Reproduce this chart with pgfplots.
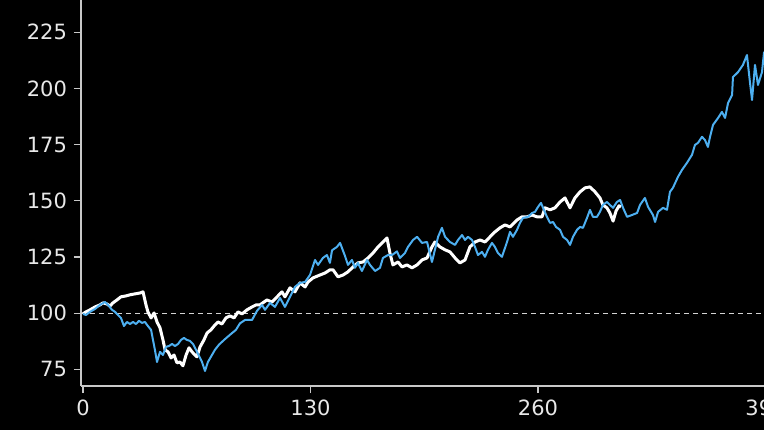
\documentclass[border=0pt]{standalone}
\usepackage{fontspec}
\setmainfont{DejaVu Sans}
\usepackage{pgfplots}
\pgfplotsset{compat=1.18}
\usepackage{xcolor}
\definecolor{LineBlue}{RGB}{77,175,240}
\definecolor{AxGray}{RGB}{200,200,200}
\definecolor{TxtGray}{RGB}{232,232,232}

\begin{document}
\begin{tikzpicture}
\fill[black] (0,0) rectangle (382pt,215pt);
\begin{axis}[
    at={(40.5pt,22pt)}, anchor=south west,
    scale only axis,
    width=344pt, height=193pt,
    xmin=-1.14, xmax=392,
    ymin=67.6, ymax=239.4,
    axis x line*=bottom, axis y line*=left,
    x axis line style={-, AxGray, line width=0.6pt},
    y axis line style={-, AxGray, line width=0.6pt},
    xtick={0,130,260,390},
    ytick={75,100,125,150,175,200,225},
    tick align=outside,
    major tick length=3.5pt,
    tick style={AxGray, line width=0.6pt},
    ticklabel style={font=\fontsize{10.5}{12}\selectfont, text=TxtGray},
    /pgf/number format/assume math mode=true,
    clip=false,
]
\addplot[AxGray!80, dash pattern=on 2.5pt off 2pt, line width=0.4pt] coordinates {(-1.14,100) (392,100)};

% white series
\addplot[white, line width=1.5pt, line join=round] coordinates {
(0,99.7) (1.7,100.6) (4.0,101.5) (6.9,102.8) (9.7,103.7) (11.4,104.6) (13.7,104.1) (15.4,103.2)
(17.1,104.6) (19.4,105.9) (21.7,107.3) (24.6,107.7) (26.9,108.2) (29.7,108.6) (32.6,109.0) (34.3,109.5)
(36.0,103.7) (37.1,100.6) (38.9,97.9) (40.6,100.1) (42.3,96.1) (44.0,93.5) (45.7,88.1) (46.9,83.7)
(48.6,82.8) (50.3,80.1) (52.0,81.4) (53.7,77.9) (55.4,78.3) (57.1,76.6) (58.9,81.4) (60.6,84.6)
(62.3,82.8) (64.0,81.4) (65.1,80.6) (66.9,85.0) (69.1,88.1) (70.9,91.2) (73.1,92.6) (74.9,94.3)
(77.1,96.1) (79.4,95.2) (81.7,97.9) (84.0,98.8) (86.3,97.9) (88.6,100.6) (90.9,99.7) (93.7,101.5)
(96.6,102.8) (98.9,103.7) (101.1,103.7) (105.1,105.9) (108.0,105.0) (110.9,107.3) (113.7,109.5)
(115.4,107.3) (118.3,111.3) (121.1,109.5) (124.0,113.5) (126.9,111.7) (128.6,113.9) (131.4,115.7)
(135.4,117.0) (138.3,117.9) (141.1,119.3) (142.9,119.3) (145.7,116.2) (148.6,117.0) (151.4,118.4)
(154.3,120.6) (157.1,122.4) (160.0,122.8) (162.9,124.6) (165.7,126.8) (168.6,129.5) (171.4,131.7)
(173.7,133.5) (175.4,126.8) (177.1,121.5) (180.0,122.8) (182.3,120.6) (185.1,121.5) (188.0,120.2)
(190.9,121.5) (193.7,123.7) (196.6,124.6) (199.4,129.5) (201.1,131.7) (204.0,129.5) (206.9,128.2)
(209.7,127.3) (212.6,124.6) (215.4,122.4) (218.3,123.7) (221.1,129.5) (224.0,131.7) (226.9,132.6)
(229.7,131.7) (232.6,134.0) (235.4,136.2) (238.3,138.0) (241.1,139.3) (244.0,138.4) (248.0,141.5)
(250.9,142.9) (253.7,142.9) (256.6,143.7) (259.4,142.9) (262.3,142.9) (264.0,146.9) (266.9,146.0)
(269.7,146.9) (272.6,149.5) (275.4,151.3) (278.3,146.9) (281.1,151.3) (284.0,154.0) (286.9,155.8)
(289.7,156.2) (292.6,154.0) (295.4,151.3) (297.1,148.2) (299.4,146.9) (301.1,144.6) (302.9,141.0)
(304.6,145.5) (306.3,147.8) (307.4,147.3)
};

% blue series
\addplot[LineBlue, line width=1pt, line join=round] coordinates {
(0,99.7) (1.7,99.2) (4.0,100.6) (6.9,101.9) (9.7,103.7) (12.6,105.0) (14.3,103.7) (16.6,101.5)
(18.3,100.6) (20.0,99.2) (21.7,97.9) (23.4,94.3) (25.1,96.1) (26.9,95.2) (28.6,96.1) (30.3,95.2)
(32.0,96.6) (33.7,95.7) (35.4,96.1) (37.1,94.3) (38.9,92.6) (40.0,88.1) (41.1,83.7) (42.3,78.3)
(44.0,82.8) (45.7,81.4) (47.4,85.0) (49.1,85.4) (50.9,86.3) (52.6,85.4) (54.3,86.3) (56.0,88.1)
(57.7,89.0) (59.4,88.1) (61.1,87.7) (62.9,86.3) (64.6,83.7) (66.3,81.0) (68.0,78.3) (69.7,74.3)
(71.4,78.3) (73.1,80.6) (75.4,83.7) (77.7,86.0) (80.6,88.1) (84.0,90.4) (87.4,92.6) (89.7,95.5)
(92.6,97.0) (96.6,97.0) (99.4,101.0) (102.3,103.7) (104.0,101.5) (106.9,104.6) (109.7,102.8)
(112.6,106.8) (115.4,102.8) (118.3,107.3) (121.1,111.7) (124.0,113.5) (126.9,113.9) (129.7,117.0)
(132.6,123.7) (134.3,121.5) (137.1,124.6) (139.4,125.9) (141.1,122.4) (142.3,128.0) (145.1,129.5)
(146.9,131.3) (149.7,125.5) (151.4,121.5) (153.7,123.7) (155.4,120.2) (157.1,122.4) (159.4,118.8)
(162.3,123.7) (164.0,121.5) (166.9,118.8) (169.7,120.2) (171.4,124.6) (174.3,125.9) (176.6,125.9)
(179.4,127.5) (181.1,124.6) (184.0,126.8) (185.7,129.5) (188.6,132.6) (190.9,134.0) (193.7,131.3)
(196.6,131.7) (199.4,122.8) (201.1,128.2) (202.9,134.0) (205.1,138.0) (206.9,134.0) (209.7,131.7)
(212.6,130.4) (214.3,132.6) (216.6,134.8) (218.3,132.6) (220.0,134.0) (222.3,132.6) (224.0,129.5)
(225.7,125.9) (228.0,127.3) (229.7,125.1) (231.4,128.2) (233.7,131.3) (235.4,129.5) (237.1,126.8)
(239.4,125.1) (242.3,131.7) (244.0,136.2) (245.7,134.0) (248.0,137.1) (249.7,140.2) (251.4,142.4)
(254.3,142.9) (256.6,144.6) (258.3,145.1) (260.0,147.3) (261.7,149.1) (262.9,146.9) (265.1,142.9)
(266.9,140.2) (268.6,140.6) (270.3,138.4) (272.6,137.1) (274.3,134.0) (276.6,132.6) (278.3,130.4)
(280.0,134.0) (282.3,137.1) (284.0,138.4) (285.7,138.0) (288.0,142.4) (289.7,146.0) (291.4,142.9)
(293.7,142.9) (295.4,145.1) (297.1,148.2) (299.4,149.5) (301.1,148.2) (302.9,146.9) (305.1,149.5)
(306.9,150.4) (308.6,146.9) (310.9,142.9) (313.7,143.7) (316.6,144.6) (318.3,148.2) (321.1,151.3)
(322.9,147.3) (325.7,143.7) (326.9,140.6) (328.6,145.1) (331.4,146.9) (333.7,146.0) (335.4,154.0)
(337.1,155.8) (340.0,160.7) (342.3,163.8) (345.1,166.9) (348.0,170.5) (349.7,174.9) (351.4,175.8)
(353.7,178.5) (355.4,177.1) (357.1,174.0) (358.3,178.5) (360.0,183.8) (362.9,186.9) (365.1,189.6)
(366.9,186.9) (368.6,193.6) (370.9,197.1) (371.4,205.1) (374.3,207.3) (377.1,210.5) (379.4,214.9)
(381.1,202.9) (382.3,194.9) (384.0,210.5) (385.7,201.6) (388.0,207.3) (389.1,215.8) (390,217)
};
\end{axis}
\pgfresetboundingbox
\useasboundingbox (0,0) rectangle (382pt,215pt);
\end{tikzpicture}
\end{document}
